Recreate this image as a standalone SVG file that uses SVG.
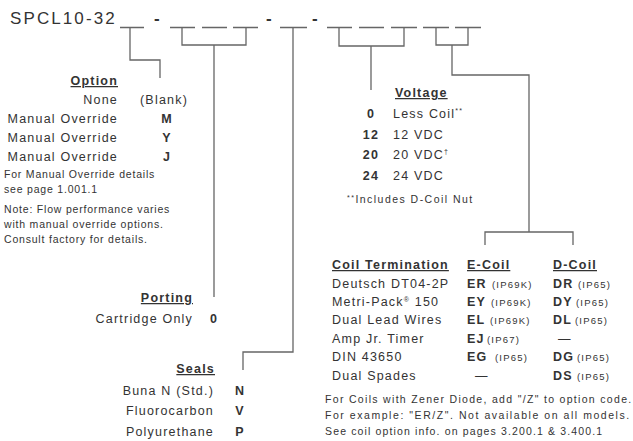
<svg xmlns="http://www.w3.org/2000/svg" width="633" height="441" viewBox="0 0 633 441">
<style>
text{font-family:"Liberation Sans",Arial,sans-serif;fill:#333;font-size:12.5px;letter-spacing:1.2px}
.b{font-weight:bold}
.h{font-weight:bold;text-decoration:underline}
.n{font-size:10.5px;letter-spacing:0.8px}
.s{font-size:9.5px;letter-spacing:1.2px}
.e{text-anchor:end}
.m{text-anchor:middle}
.ti{font-size:17px;letter-spacing:2.1px}
.ln{stroke:#666;stroke-width:1.3;fill:none}
</style>
<rect width="633" height="441" fill="#fff"/>
<g id="part-number">
<text class="ti" x="10" y="24">SPCL10-32</text>
<text class="ti b m" x="158" y="24">-</text>
<text class="ti b m" x="270" y="24">-</text>
<text class="ti b m" x="316" y="24">-</text>
<path class="ln" d="M120,27.5H144M170,27.5H195M202,27.5H227M233,27.5H258M280,27.5H307M327,27.5H352M359,27.5H384M391,27.5H417M423,27.5H449M455,27.5H481"/>
</g>
<g id="connectors">
<path class="ln" d="M130,28V60H160V78"/>
<path class="ln" d="M182,28V45H246V28M214,45V297"/>
<path class="ln" d="M293,28V352H243V370"/>
<path class="ln" d="M339,28V46H404V28M371,46V90"/>
<path class="ln" d="M436,28V45H468V28M452,45V75H529V232M485,245V232H573V245"/>
</g>
<g id="option">
<text class="h e" x="118" y="85">Option</text>
<text class="e" x="118" y="104">None</text>
<text x="140" y="104">(Blank)</text>
<text class="e" x="118" y="123">Manual Override</text>
<text class="e" x="118" y="142">Manual Override</text>
<text class="e" x="118" y="161">Manual Override</text>
<text class="b m" x="167" y="123">M</text>
<text class="b m" x="167" y="142">Y</text>
<text class="b m" x="167" y="161">J</text>
<text class="n" x="4" y="178">For Manual Override details</text>
<text class="n" x="4" y="193">see page 1.001.1</text>
<text class="n" x="4" y="213">Note: Flow performance varies</text>
<text class="n" x="4" y="228">with manual override options.</text>
<text class="n" x="4" y="243">Consult factory for details.</text>
</g>
<g id="porting">
<text class="h e" x="193" y="302">Porting</text>
<text class="e" x="193" y="323">Cartridge Only</text>
<text class="b m" x="214" y="323">0</text>
</g>
<g id="seals">
<text class="h e" x="215" y="373">Seals</text>
<text class="e" x="214" y="395">Buna N (Std.)</text>
<text class="e" x="214" y="415">Fluorocarbon</text>
<text class="e" x="214" y="436">Polyurethane</text>
<text class="b m" x="240" y="395">N</text>
<text class="b m" x="240" y="415">V</text>
<text class="b m" x="240" y="436">P</text>
</g>
<g id="voltage">
<text class="h" x="395" y="97">Voltage</text>
<text class="b m" x="371" y="118">0</text>
<text class="b m" x="371" y="139">12</text>
<text class="b m" x="371" y="159">20</text>
<text class="b m" x="371" y="180">24</text>
<text x="393" y="118">Less Coil<tspan font-size="7" dy="-5">**</tspan></text>
<text x="393" y="139">12 VDC</text>
<text x="393" y="159">20 VDC<tspan font-size="7" dy="-5">†</tspan></text>
<text x="393" y="180">24 VDC</text>
<text class="n" x="347" y="203" textLength="126"><tspan font-size="7" dy="-3">**</tspan><tspan dy="3">Includes D-Coil Nut</tspan></text>
</g>
<g id="coil">
<text class="h" x="332" y="269">Coil Termination</text>
<text class="h" x="467" y="269">E-Coil</text>
<text class="h" x="553" y="269">D-Coil</text>
<text x="332" y="288">Deutsch DT04-2P</text>
<text x="332" y="306">Metri-Pack<tspan font-size="7" dy="-4">®</tspan><tspan dy="4"> 150</tspan></text>
<text x="332" y="324">Dual Lead Wires</text>
<text x="332" y="343">Amp Jr. Timer</text>
<text x="332" y="361">DIN 43650</text>
<text x="332" y="380">Dual Spades</text>
<text class="b" x="467" y="288">ER</text><text class="s" x="492" y="288">(IP69K)</text>
<text class="b" x="467" y="306">EY</text><text class="s" x="491" y="306">(IP69K)</text>
<text class="b" x="467" y="324">EL</text><text class="s" x="490" y="324">(IP69K)</text>
<text class="b" x="467" y="343">EJ</text><text class="s" x="487" y="343">(IP67)</text>
<text class="b" x="467" y="361">EG</text><text class="s" x="495" y="361">(IP65)</text>
<text x="475" y="380">—</text>
<text class="b" x="553" y="288">DR</text><text class="s" x="578" y="288">(IP65)</text>
<text class="b" x="553" y="306">DY</text><text class="s" x="576" y="306">(IP65)</text>
<text class="b" x="553" y="324">DL</text><text class="s" x="575" y="324">(IP65)</text>
<text x="558" y="343">—</text>
<text class="b" x="553" y="361">DG</text><text class="s" x="577" y="361">(IP65)</text>
<text class="b" x="553" y="380">DS</text><text class="s" x="577" y="380">(IP65)</text>
<text class="n" x="325" y="403" textLength="307">For Coils with Zener Diode, add "/Z" to option code.</text>
<text class="n" x="325" y="419" textLength="305">For example: "ER/Z". Not available on all models.</text>
<text class="n" x="325" y="435" textLength="278">See coil option info. on pages 3.200.1 &amp; 3.400.1</text>
</g>
</svg>
